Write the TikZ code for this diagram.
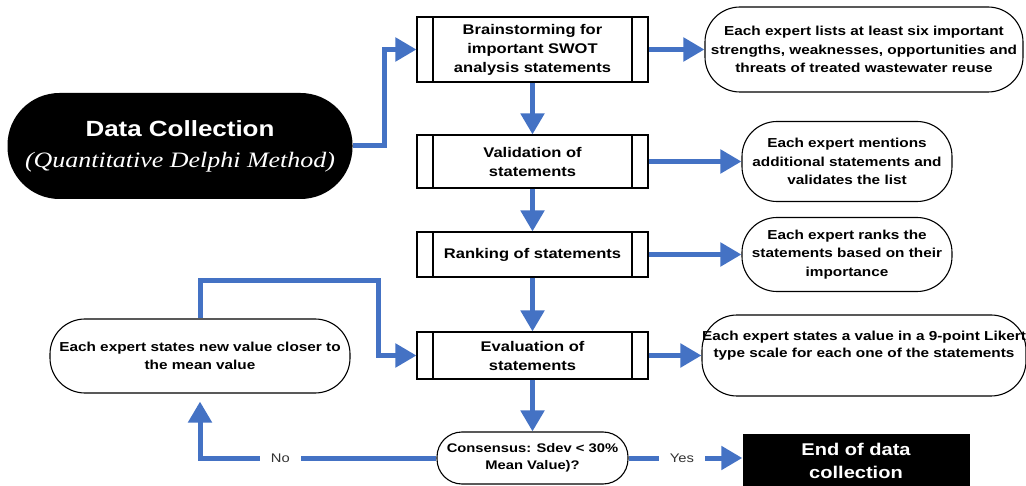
\documentclass[tikz,border=0pt]{standalone}
\usepackage{fontspec}
\setmainfont{Liberation Sans}[FakeStretch=1.18]
\newfontfamily\delphifont{Liberation Serif}[FakeStretch=1.18]
\usetikzlibrary{arrows.meta}
\definecolor{flowblue}{RGB}{68,114,196}

\begin{document}
\begin{tikzpicture}[x=1pt, y=-1pt,
        boxtxt/.style={font=\fontsize{14}{19}\selectfont\bfseries, align=center},
        ovaltxt/.style={font=\fontsize{13}{18.5}\selectfont\bfseries, align=center},
        proc/.style={boxtxt, draw, line width=1.1pt, inner sep=0pt, minimum width=231pt,
            path picture={
                \draw[line width=1.1pt] ([xshift=16pt]path picture bounding box.north west) -- ([xshift=16pt]path picture bounding box.south west);
                \draw[line width=1.1pt] ([xshift=-16pt]path picture bounding box.north east) -- ([xshift=-16pt]path picture bounding box.south east);}},
        oval/.style={ovaltxt, draw, line width=1.1pt, rounded corners=35pt, inner sep=0pt},
        flow/.style={flowblue, line width=5pt, -{Triangle[length=21pt,width=23pt]}},
        yesno/.style={fill=white, text=black!80, inner xsep=11pt, font=\fontsize{12.5}{15}\selectfont}]
        \useasboundingbox (0,0) rectangle (1026,486);
        % start and end
        \node[fill=black, text=white, rounded corners=52pt, inner sep=0pt, minimum width=345pt, minimum height=106pt, align=center, font=\fontsize{22}{31}\selectfont] (dc) at (180,146) {{\bfseries Data Collection}\\{\delphifont\itshape (Quantitative Delphi Method)}};
        \node[fill=black, text=white, inner sep=0pt, minimum width=227pt, minimum height=54pt, align=center, font=\fontsize{17}{23}\selectfont\bfseries] (endc) at (856,461) {End of data\\collection};
        % steps
        \node[proc, minimum height=65pt] (brain) at (532.5,49.5) {Brainstorming for\\important SWOT\\analysis statements};
        \node[proc, minimum height=53pt] (valid) at (532.5,161.5) {Validation of\\statements};
        \node[proc, minimum height=45pt] (rank) at (532.5,254.5) {Ranking of statements};
        \node[proc, minimum height=47pt] (eval) at (532.5,355.5) {Evaluation of\\statements};
        \node[oval, rounded corners=25pt, minimum width=191pt, minimum height=52pt, font=\fontsize{12.5}{17}\selectfont\bfseries] (cons) at (532.5,458) {Consensus: Sdev < 30\%\\Mean Value)?};
        % what the experts do
        \node[oval, minimum width=318pt, minimum height=85pt] (e1) at (864,49.5) {Each expert lists at least six important\\strengths, weaknesses, opportunities and\\threats of treated wastewater reuse};
        \node[oval, minimum width=210pt, minimum height=80pt] (e2) at (847,161.5) {Each expert mentions\\additional statements and\\validates the list};
        \node[oval, minimum width=210pt, minimum height=74pt] (e3) at (847,254.5) {Each expert ranks the\\statements based on their\\importance};
        \node[oval, minimum width=318pt, minimum height=81pt, font=\fontsize{13}{17}\selectfont\bfseries] (e4) at (864,355.5) {Each expert states a value in a 9-point Likert\\type scale for each one of the statements\\ \strut};
        \node[oval, minimum width=300pt, minimum height=74pt] (back) at (200,356) {Each expert states new value closer to\\the mean value};
        % connectors
        \draw[flow] (dc.east) -- ++(32,0) |- (brain.west);
        \foreach \a/\b in {brain/valid, valid/rank, rank/eval, eval/cons}
            \draw[flow] (\a.south) -- (\b.north);
        \foreach \a/\b in {brain/e1, valid/e2, rank/e3, eval/e4}
            \draw[flow] (\a.east) -- (\b.west);
        \draw[flow] (cons.east) -- node[yesno, pos=.47] {Yes} (cons.east -| endc.west);
        \draw[flow, shorten >=8pt] (cons.west) -| node[yesno, pos=.33] {No} (back.south);
        \draw[flow] (back.north) |- (378,281) |- (eval.west);
    \end{tikzpicture}
\end{document}
